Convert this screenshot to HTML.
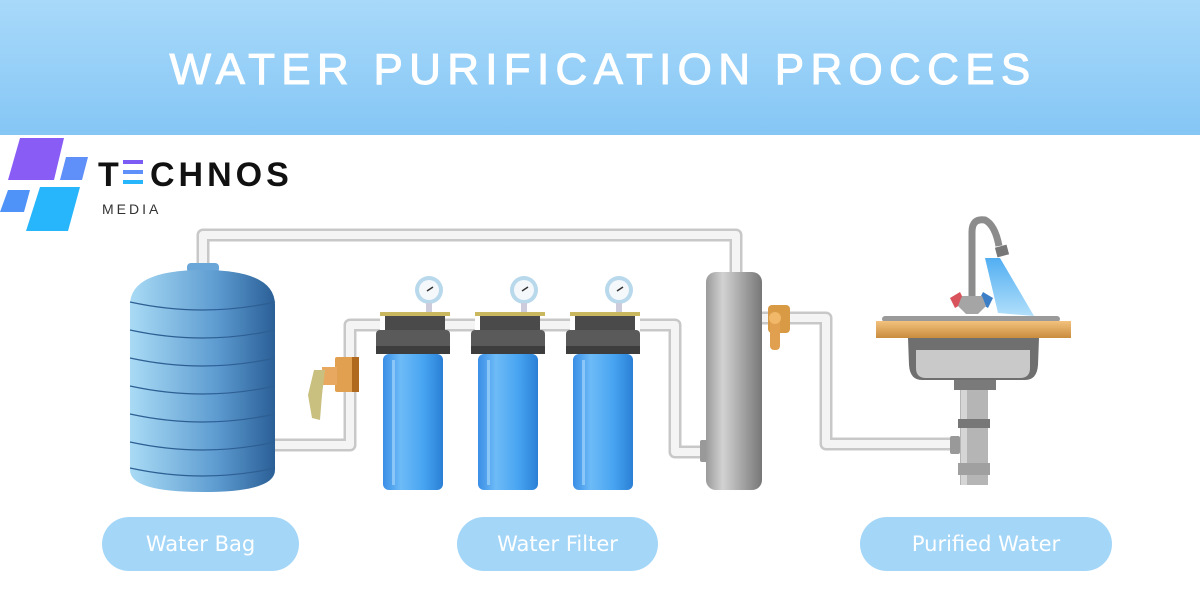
<!DOCTYPE html>
<html><head><meta charset="utf-8"><style>
html,body{margin:0;padding:0;width:1200px;height:600px;overflow:hidden;background:#fff;font-family:"Liberation Sans",sans-serif}
.hdr{position:absolute;left:0;top:0;width:1200px;height:135px;background:linear-gradient(#a8d9fa,#85c6f5)}
.ttl{position:absolute;left:3px;top:45px;width:1200px;text-align:center;color:#fff;font-size:44px;letter-spacing:6.3px;font-weight:normal;line-height:50px;-webkit-text-stroke:1px #fff}
.pill{position:absolute;top:517px;height:54px;border-radius:27px;background:#a4d6f8;color:#fff;font-size:21px;line-height:54px;text-align:center;font-family:"DejaVu Sans",sans-serif}
</style></head><body>
<div class="hdr"></div>
<div class="ttl">WATER PURIFICATION PROCCES</div>
<svg width="1200" height="600" style="position:absolute;left:0;top:0">
<defs>
<linearGradient id="tank" x1="0" x2="1"><stop offset="0" stop-color="#a9dbf5"/><stop offset="0.6" stop-color="#5d9bd0"/><stop offset="1" stop-color="#2a5f96"/></linearGradient>
<linearGradient id="fb" x1="0" x2="1"><stop offset="0" stop-color="#3a8ee6"/><stop offset="0.3" stop-color="#6dbbf7"/><stop offset="0.7" stop-color="#45a2f0"/><stop offset="1" stop-color="#2a7fd5"/></linearGradient>
<linearGradient id="cyl" x1="0" x2="1"><stop offset="0" stop-color="#9a9a9a"/><stop offset="0.3" stop-color="#d2d2d2"/><stop offset="1" stop-color="#777"/></linearGradient>
<linearGradient id="spray" x1="0" y1="0" x2="0" y2="1"><stop offset="0" stop-color="#3ea5f0"/><stop offset="1" stop-color="#a9dcfa"/></linearGradient>
<linearGradient id="counter" x1="0" y1="0" x2="0" y2="1"><stop offset="0" stop-color="#f3c27e"/><stop offset="1" stop-color="#c98c3e"/></linearGradient>
</defs>
<polygon points="20,138 64,138 54,180 8,180" fill="#8a5cf6"/>
<polygon points="66,157 88,157 82,180 60,180" fill="#5f8ff8"/>
<polygon points="8,190 30,190 24,212 0,212" fill="#4f92f8"/>
<polygon points="40,187 80,187 68,231 26,231" fill="#27b5fb"/>
<text x="98" y="186" font-size="34" font-weight="bold" fill="#111" letter-spacing="4" font-family="Liberation Sans">T</text>
<rect x="123" y="160" width="20" height="4" fill="#7b5cf5"/><rect x="123" y="170" width="20" height="4" fill="#5f8ff8"/><rect x="123" y="180" width="20" height="4" fill="#27b5fb"/>
<text x="150" y="186" font-size="34" font-weight="bold" fill="#111" letter-spacing="4" font-family="Liberation Sans">CHNOS</text>
<text x="102" y="214" font-size="14" fill="#333" letter-spacing="3" font-family="Liberation Sans">MEDIA</text>
<g fill="none" stroke="#c8c8c8" stroke-width="13" stroke-linejoin="round">
<polyline points="203,268 203,235 736,235 736,274"/>
<polyline points="275,445 350,445 350,325 380,325"/>
<polyline points="640,325 675,325 675,452 706,452"/>
<polyline points="762,318 826,318 826,444 955,444"/>
<line x1="445" y1="325" x2="475" y2="325"/><line x1="540" y1="325" x2="570" y2="325"/>
</g>
<g fill="none" stroke="#f4f4f4" stroke-width="8" stroke-linejoin="round">
<polyline points="203,268 203,235 736,235 736,274"/>
<polyline points="275,445 350,445 350,325 380,325"/>
<polyline points="640,325 675,325 675,452 706,452"/>
<polyline points="762,318 826,318 826,444 955,444"/>
<line x1="445" y1="325" x2="475" y2="325"/><line x1="540" y1="325" x2="570" y2="325"/>
</g>
<rect x="187" y="263" width="32" height="10" rx="4" fill="#6aa6d8"/>
<path d="M130,305 Q130,270 203,270 Q275,270 275,305 L275,470 Q275,492 203,492 Q130,492 130,470 Z" fill="url(#tank)"/>
<g stroke="#2d5f93" stroke-width="1.2" fill="none">
<path d="M130,302 Q203,318 275,302"/><path d="M130,330 Q203,346 275,330"/><path d="M130,358 Q203,374 275,358"/><path d="M130,386 Q203,402 275,386"/><path d="M130,414 Q203,430 275,414"/><path d="M130,442 Q203,458 275,442"/><path d="M130,468 Q203,484 275,468"/>
</g>
<rect x="335" y="357" width="24" height="35" rx="2" fill="#e0a050"/><rect x="352" y="357" width="7" height="35" fill="#b06a20"/>
<rect x="322" y="367" width="15" height="18" fill="#e8a860"/>
<path d="M314,370 L325,370 L322,395 L320,420 L312,418 L308,395 Z" fill="#c9c080"/>
<g id="f">
<circle cx="429" cy="290" r="14" fill="#b8d8ec"/><circle cx="429" cy="290" r="10" fill="#f4f8fb"/><line x1="427" y1="291" x2="433" y2="287" stroke="#333" stroke-width="1.5"/>
<rect x="426" y="303" width="6" height="10" fill="#ccd"/>
<rect x="380" y="312" width="70" height="4" fill="#c9b860"/>
<rect x="385" y="316" width="60" height="22" fill="#4a4a4a"/>
<rect x="376" y="330" width="74" height="24" rx="4" fill="#5a5a5a"/>
<rect x="376" y="346" width="74" height="8" fill="#3d3d3d"/>
<rect x="383" y="354" width="60" height="136" rx="6" fill="url(#fb)"/>
<rect x="392" y="360" width="3" height="125" fill="#9fd4fb" opacity="0.7"/>
</g>
<use href="#f" x="95"/><use href="#f" x="190"/>
<rect x="700" y="440" width="8" height="22" rx="2" fill="#999"/>
<rect x="706" y="272" width="56" height="218" rx="10" fill="url(#cyl)"/>
<rect x="768" y="305" width="22" height="28" rx="4" fill="#d99a45"/>
<rect x="770" y="316" width="10" height="34" rx="4" fill="#e0a050"/>
<circle cx="775" cy="318" r="6" fill="#f0b868"/>
<path d="M998,313 L985,258 L1000,258 L1034,316 Z" fill="url(#spray)" opacity="0.9"/>
<path d="M972,305 L972,232 Q972,218 985,220 Q995,225 999,246" fill="none" stroke="#8c8c8c" stroke-width="7"/>
<rect x="996" y="246" width="12" height="10" fill="#777" transform="rotate(-15 1002 251)"/>
<polygon points="950,298 960,292 965,302 955,308" fill="#d8535c"/>
<polygon points="983,292 993,298 988,308 978,302" fill="#3c7fc6"/>
<path d="M962,296 L982,296 L986,306 L978,314 L966,314 L958,306 Z" fill="#a5a5a5"/>
<rect x="882" y="316" width="178" height="6" rx="3" fill="#9a9a9a"/>
<rect x="876" y="321" width="195" height="17" fill="url(#counter)"/>
<path d="M908,338 L1039,338 L1038,365 Q1037,380 1025,380 L922,380 Q910,380 909,365 Z" fill="#6f6f6f"/>
<path d="M916,350 L1030,350 L1030,368 Q1030,378 1020,378 L926,378 Q916,378 916,368 Z" fill="#c9c9c9"/>
<rect x="954" y="380" width="42" height="10" fill="#7a7a7a"/>
<rect x="960" y="390" width="28" height="95" fill="#b5b5b5"/>
<rect x="961" y="390" width="6" height="95" fill="#d5d5d5"/>
<rect x="958" y="419" width="32" height="9" fill="#777"/>
<rect x="950" y="436" width="10" height="18" rx="2" fill="#999"/>
<rect x="958" y="463" width="32" height="12" fill="#a0a0a0"/>
</svg>
<div class="pill" style="left:102px;width:197px">Water Bag</div>
<div class="pill" style="left:457px;width:201px">Water Filter</div>
<div class="pill" style="left:860px;width:252px">Purified Water</div>
</body></html>
